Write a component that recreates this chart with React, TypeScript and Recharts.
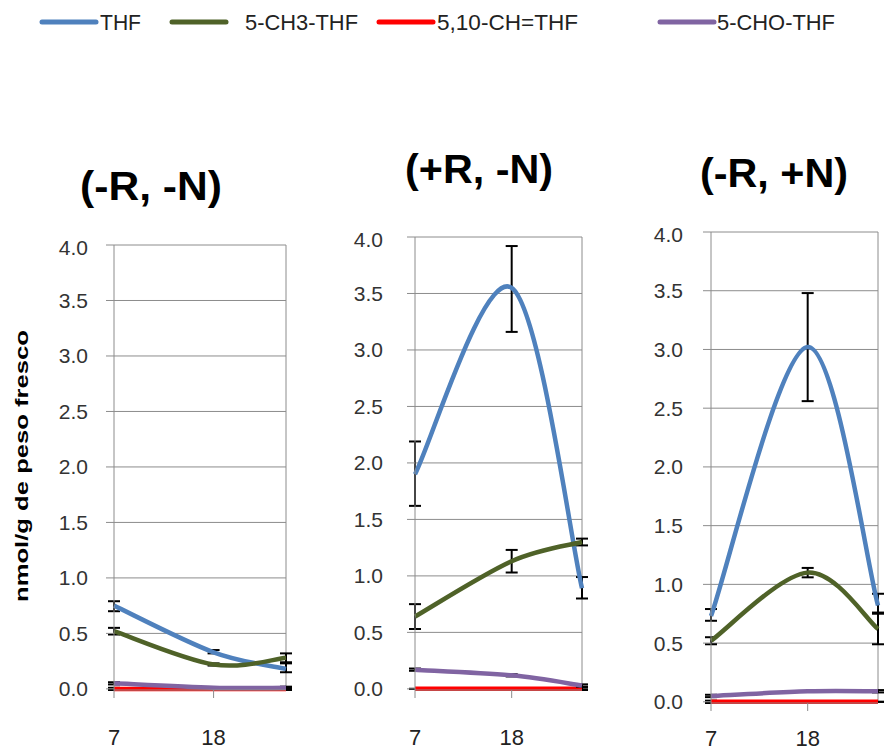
import { LineChart, Line, XAxis, YAxis, CartesianGrid, ErrorBar, ReferenceLine } from "recharts";

const days = [7, 18, 26];
const xTicks = [7, 18];
const yTicks = [0, 0.5, 1, 1.5, 2, 2.5, 3, 3.5, 4];

const seriesNames = ["THF", "5-CH3-THF", "5,10-CH=THF", "5-CHO-THF"];
const seriesColors = ["#4F81BD", "#4F6228", "#FF0000", "#8064A2"];

// (-R, -N)
const thfA = [0.75, 0.33, 0.18];
const thfErrA = [[0.05, 0.04], [0.01, 0.02], [0.03, 0.05]];
const ch3A = [0.52, 0.22, 0.28];
const ch3ErrA = [[0.03, 0.03], [0.01, 0.01], [0.04, 0.04]];
const chA = [0, 0, 0];
const chErrA = [[0.01, 0.01], [0, 0], [0.01, 0.01]];
const choA = [0.05, 0.01, 0.01];
const choErrA = [[0.01, 0.01], [0, 0], [0.01, 0.01]];

// (+R, -N)
const thfB = [1.9, 3.55, 0.89];
const thfErrB = [[0.28, 0.29], [0.39, 0.37], [0.09, 0.1]];
const ch3B = [0.64, 1.13, 1.3];
const ch3ErrB = [[0.11, 0.11], [0.1, 0.1], [0.03, 0.03]];
const chB = [0, 0, 0];
const chErrB = [[0, 0], [0, 0], [0.01, 0.01]];
const choB = [0.17, 0.12, 0.03];
const choErrB = [[0.01, 0.01], [0.01, 0.01], [0.01, 0.01]];

// (-R, +N)
const thfC = [0.73, 3.02, 0.82];
const thfErrC = [[0.04, 0.06], [0.46, 0.46], [0.07, 0.1]];
const ch3C = [0.52, 1.1, 0.62];
const ch3ErrC = [[0.03, 0.03], [0.04, 0.04], [0.13, 0.14]];
const chC = [0, 0, 0];
const chErrC = [[0.01, 0.01], [0, 0], [0, 0]];
const choC = [0.05, 0.09, 0.09];
const choErrC = [[0.01, 0.01], [0, 0], [0.01, 0.01]];

function rows(thf, thfErr, ch3, ch3Err, ch, chErr, cho, choErr) {
  return days.map((d, i) => ({
    day: d,
    thf: thf[i],
    thfErr: thfErr[i],
    ch3: ch3[i],
    ch3Err: ch3Err[i],
    ch: ch[i],
    chErr: chErr[i],
    cho: cho[i],
    choErr: choErr[i],
  }));
}

// excel-like smoothed line (catmull-rom style bezier)
function excelSmooth(context: any) {
  let xs: number[] = [];
  let ys: number[] = [];
  return {
    areaStart() {},
    areaEnd() {},
    lineStart() {
      xs = [];
      ys = [];
    },
    point(x: number, y: number) {
      xs.push(+x);
      ys.push(+y);
    },
    lineEnd() {
      const n = xs.length;
      if (!n) return;
      context.moveTo(xs[0], ys[0]);
      for (let i = 0; i < n - 1; i++) {
        const i0 = Math.max(0, i - 1);
        const i3 = Math.min(n - 1, i + 2);
        context.bezierCurveTo(
          xs[i] + (xs[i + 1] - xs[i0]) / 6,
          ys[i] + (ys[i + 1] - ys[i0]) / 6,
          xs[i + 1] - (xs[i3] - xs[i]) / 6,
          ys[i + 1] - (ys[i3] - ys[i]) / 6,
          xs[i + 1],
          ys[i + 1]
        );
      }
    },
  };
}

const keys = ["thf", "ch3", "ch", "cho"];
const GRID = "#8C8C8C";
const Y_W = 80;

function Panel({ data, left, top, plotW, plotH, tickGap, xGap }: any) {
  return (
    <div style={{ position: "absolute", left: left - Y_W, top: top - 10 }}>
      <LineChart
        width={Y_W + plotW + 12}
        height={10 + plotH + 75}
        data={data}
        margin={{ top: 10, right: 12, bottom: 0, left: 0 }}
      >
        <CartesianGrid vertical={false} stroke={GRID} strokeWidth={1} />
        <XAxis
          dataKey="day"
          type="number"
          domain={[7, 26]}
          ticks={xTicks}
          height={75}
          tickSize={8}
          tickMargin={xGap}
          axisLine={{ stroke: GRID }}
          tickLine={{ stroke: GRID }}
          tick={{ fill: "#222", fontSize: 22 }}
        />
        <YAxis
          type="number"
          domain={[0, 4]}
          ticks={yTicks}
          width={Y_W}
          tickSize={8}
          tickMargin={tickGap}
          axisLine={{ stroke: GRID }}
          tickLine={{ stroke: GRID }}
          tick={{ fill: "#333", fontSize: 21 }}
          tickFormatter={(v: number) => v.toFixed(1)}
        />
        <ReferenceLine x={26} stroke={GRID} strokeWidth={1} />
        {keys.map((k, i) => (
          <Line
            key={k}
            dataKey={k}
            type={excelSmooth as any}
            stroke={seriesColors[i]}
            strokeWidth={4.5}
            dot={false}
            activeDot={false}
            isAnimationActive={false}
          >
            <ErrorBar dataKey={k + "Err"} direction="y" width={6} stroke="#000" strokeWidth={2} />
          </Line>
        ))}
      </LineChart>
    </div>
  );
}

const legendX = [42, 172, 379, 660];
const legendTextX = [100, 245, 437, 717];
const legendTextW = [41, 113, 141, 118];

export default function App() {
  const dataA = rows(thfA, thfErrA, ch3A, ch3ErrA, chA, chErrA, choA, choErrA);
  const dataB = rows(thfB, thfErrB, ch3B, ch3ErrB, chB, chErrB, choB, choErrB);
  const dataC = rows(thfC, thfErrC, ch3C, ch3ErrC, chC, chErrC, choC, choErrC);
  const font = "'Liberation Sans', Arial, sans-serif";

  return (
    <div
      style={{
        position: "absolute",
        left: 0,
        top: 0,
        width: 884,
        height: 755,
        overflow: "hidden",
        background: "#fff",
        fontFamily: font,
      }}
    >
      <Panel data={dataA} left={114} top={245} plotW={172} plotH={445} tickGap={18} xGap={31} />
      <Panel data={dataB} left={415} top={237} plotW={167} plotH={453} tickGap={24} xGap={31} />
      <Panel data={dataC} left={711} top={232} plotW={167} plotH={471} tickGap={20} xGap={19} />

      <svg
        width={884}
        height={755}
        style={{ position: "absolute", left: 0, top: 0, pointerEvents: "none" }}
      >
        {seriesNames.map((n, i) => (
          <g key={n}>
            <line
              x1={legendX[i]}
              x2={legendX[i] + 54}
              y1={22}
              y2={22}
              stroke={seriesColors[i]}
              strokeWidth={5}
              strokeLinecap="round"
            />
            <text
              x={legendTextX[i]}
              y={30}
              fontSize={22}
              fill="#222"
              fontFamily={font}
              textLength={legendTextW[i]}
              lengthAdjust="spacingAndGlyphs"
            >
              {n}
            </text>
          </g>
        ))}

        <text x={151} y={200} textAnchor="middle" fontSize={41} fontWeight="bold" fill="#000"
          fontFamily={font} textLength={142} lengthAdjust="spacingAndGlyphs">(-R, -N)</text>
        <text x={479} y={183} textAnchor="middle" fontSize={41} fontWeight="bold" fill="#000"
          fontFamily={font} textLength={148} lengthAdjust="spacingAndGlyphs">(+R, -N)</text>
        <text x={774} y={187} textAnchor="middle" fontSize={41} fontWeight="bold" fill="#000"
          fontFamily={font} textLength={148} lengthAdjust="spacingAndGlyphs">(-R, +N)</text>

        <text
          transform="translate(28, 466) rotate(-90)"
          textAnchor="middle"
          fontSize={18}
          fontWeight="bold"
          fill="#000"
          fontFamily={font}
          textLength={272}
          lengthAdjust="spacingAndGlyphs"
        >
          nmol/g de peso fresco
        </text>
      </svg>
    </div>
  );
}
